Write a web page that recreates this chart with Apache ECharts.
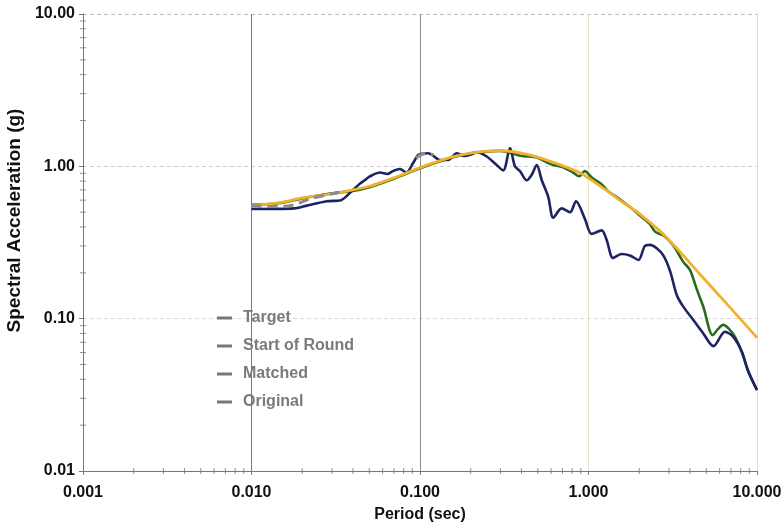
<!DOCTYPE html>
<html>
<head>
<meta charset="utf-8">
<script src="https://cdn.jsdelivr.net/npm/echarts@6/dist/echarts.min.js"></script>
<style>html,body{margin:0;padding:0;background:#fff;}#c{width:782px;height:529px;}</style>
</head>
<body>
<div id="c"></div>
<script>
// Series: [period (sec), spectral acceleration (g)]
const target = [[0.01,0.55],[0.015,0.58],[0.02,0.62],[0.03,0.66],[0.04,0.70],[0.05,0.74],[0.07,0.84],[0.1,0.98],[0.15,1.14],[0.2,1.22],[0.25,1.26],[0.3,1.27],[0.4,1.22],[0.5,1.15],[0.7,1.01],[0.9,0.90],[1.2,0.73],[1.5,0.61],[2,0.49],[2.7,0.37],[3.5,0.274],[4.6,0.195],[6,0.141],[8,0.099],[10,0.075]];
const startOfRound = [[0.01,0.55],[0.012,0.545],[0.015,0.545],[0.018,0.56],[0.022,0.61],[0.027,0.645],[0.032,0.67],[0.036,0.685],[0.04,'-'],[0.095,1.13],[0.1,1.18],[0.11,1.22],[0.12,1.19]];
const matched = [[0.01,0.56],[0.015,0.575],[0.02,0.615],[0.03,0.665],[0.04,0.69],[0.05,0.73],[0.07,0.83],[0.1,0.97],[0.15,1.13],[0.2,1.22],[0.25,1.25],[0.3,1.26],[0.35,1.22],[0.4,1.17],[0.45,1.16],[0.5,1.14],[0.6,1.03],[0.7,0.99],[0.8,0.92],[0.88,0.86],[0.95,0.93],[1.05,0.84],[1.2,0.76],[1.3,0.69],[1.5,0.62],[1.8,0.53],[2.0,0.48],[2.3,0.42],[2.5,0.37],[2.8,0.35],[3.2,0.30],[3.65,0.236],[4.0,0.209],[4.4,0.155],[4.8,0.12],[5.46,0.078],[5.9,0.086],[6.3,0.091],[6.8,0.086],[7.4,0.076],[8.1,0.061],[8.9,0.045],[10,0.034]];
const original = [[0.01,0.525],[0.018,0.53],[0.021,0.55],[0.028,0.59],[0.034,0.60],[0.039,0.68],[0.044,0.77],[0.047,0.81],[0.050,0.855],[0.058,0.91],[0.064,0.89],[0.069,0.93],[0.076,0.96],[0.083,0.91],[0.091,1.05],[0.098,1.19],[0.112,1.22],[0.120,1.17],[0.131,1.10],[0.147,1.10],[0.165,1.22],[0.181,1.17],[0.207,1.21],[0.217,1.24],[0.249,1.16],[0.285,1.02],[0.312,0.94],[0.342,1.32],[0.366,1.0],[0.392,0.93],[0.43,0.81],[0.46,0.88],[0.493,1.02],[0.528,0.81],[0.577,0.63],[0.618,0.46],[0.693,0.53],[0.777,0.50],[0.843,0.59],[0.953,0.45],[1.045,0.36],[1.197,0.38],[1.28,0.33],[1.40,0.25],[1.57,0.266],[1.76,0.26],[1.98,0.243],[2.16,0.30],[2.32,0.305],[2.54,0.29],[2.78,0.26],[3.05,0.205],[3.34,0.143],[3.65,0.12],[4.19,0.098],[4.80,0.080],[5.51,0.066],[6.46,0.082],[7.23,0.076],[8.11,0.061],[8.87,0.045],[10,0.034]];

const xMajorTicks = [0.001,0.01,0.1,1,10];
const yMajorTicks = [0.01,0.1,1,10];
const xMinorTicks = [];
for (const d of [0.001,0.01,0.1,1]) for (let k = 2; k <= 9; k++) xMinorTicks.push(+(k*d).toPrecision(3));
const yMinorTicks = [];
for (const d of [0.01,0.1,1]) for (let k = 2; k <= 9; k++) yMinorTicks.push(+(k*d).toPrecision(3));

const FONT = 'Liberation Sans, Arial, sans-serif';
const labelFont = {fontFamily:FONT, fontWeight:'bold', fontSize:16, color:'#111'};
const chart = echarts.init(document.getElementById('c'));
chart.setOption({
  animation:false,
  backgroundColor:'#fff',
  grid:{left:83, right:25, top:14, bottom:58, outerBoundsMode:'none', containLabel:false},
  legend:{
    orient:'vertical', left:212, top:305, itemGap:12,
    icon:'rect', itemWidth:15, itemHeight:3,
    itemStyle:{color:'#777'},
    textStyle:{fontFamily:FONT, fontWeight:'bold', fontSize:16, color:'#7a7a7a', padding:[0,0,0,6]},
    data:['Target','Start of Round','Matched','Original']
  },
  xAxis:{
    type:'log', logBase:10, min:0.001, max:10,
    name:'Period (sec)', nameLocation:'middle', nameGap:36,
    nameTextStyle:{fontFamily:FONT, fontWeight:'bold', fontSize:16, color:'#111'},
    axisLine:{lineStyle:{color:'#777', width:1}},
    axisTick:{length:4, lineStyle:{color:'#777'}},
    axisLabel:Object.assign({margin:14, formatter:v=>(+v).toFixed(3)}, labelFont),
    splitLine:{show:true, lineStyle:{color:['#bbb','#7a7a7a','#8a8a8a','#e6e2c8','#d6dde6'], width:1}}
  },
  yAxis:{
    type:'log', logBase:10, min:0.01, max:10,
    name:'Spectral Acceleration (g)', nameLocation:'middle', nameGap:52,
    nameTextStyle:{fontFamily:FONT, fontWeight:'bold', fontSize:19, color:'#111', padding:[0,0,0,44]},
    axisLine:{lineStyle:{color:'#777', width:1}},
    axisTick:{length:4, lineStyle:{color:'#777'}},
    axisLabel:Object.assign({margin:8, formatter:v=>(+v).toFixed(2)}, labelFont),
    splitLine:{show:true, lineStyle:{color:['#ddd','#d8d8d8','#d0d0d0','#bdbdbd'], width:1, type:[4,3]}}
  },
  series:[
    {name:'Matched', type:'line', data:matched, showSymbol:false, smooth:0.3, z:2,
     itemStyle:{color:'#2b6b1f'}, lineStyle:{color:'#2b6b1f', width:2.6}},
    {name:'Original', type:'line', data:original, showSymbol:false, smooth:0.3, z:3,
     itemStyle:{color:'#1c2463'}, lineStyle:{color:'#1c2463', width:2.6}},
    {name:'Target', type:'line', data:target, showSymbol:false, smooth:0.2, z:4,
     itemStyle:{color:'#f2b12c'}, lineStyle:{color:'#f2b12c', width:2.8}},
    {name:'Start of Round', type:'line', data:startOfRound, showSymbol:false, smooth:0.3, z:5, connectNulls:false,
     itemStyle:{color:'#8c8c8c'}, lineStyle:{color:'#8c8c8c', width:3.2, type:[10,6]}},
    {type:'scatter', silent:true, clip:false, z:6, symbol:'rect', symbolSize:[1,6],
     itemStyle:{color:'#777'}, data:xMinorTicks.map(v=>[v,0.01])},
    {type:'scatter', silent:true, clip:false, z:6, symbol:'rect', symbolSize:[6,1],
     itemStyle:{color:'#777'}, data:yMinorTicks.map(v=>[0.001,v])}
  ]
});
</script>
</body>
</html>
